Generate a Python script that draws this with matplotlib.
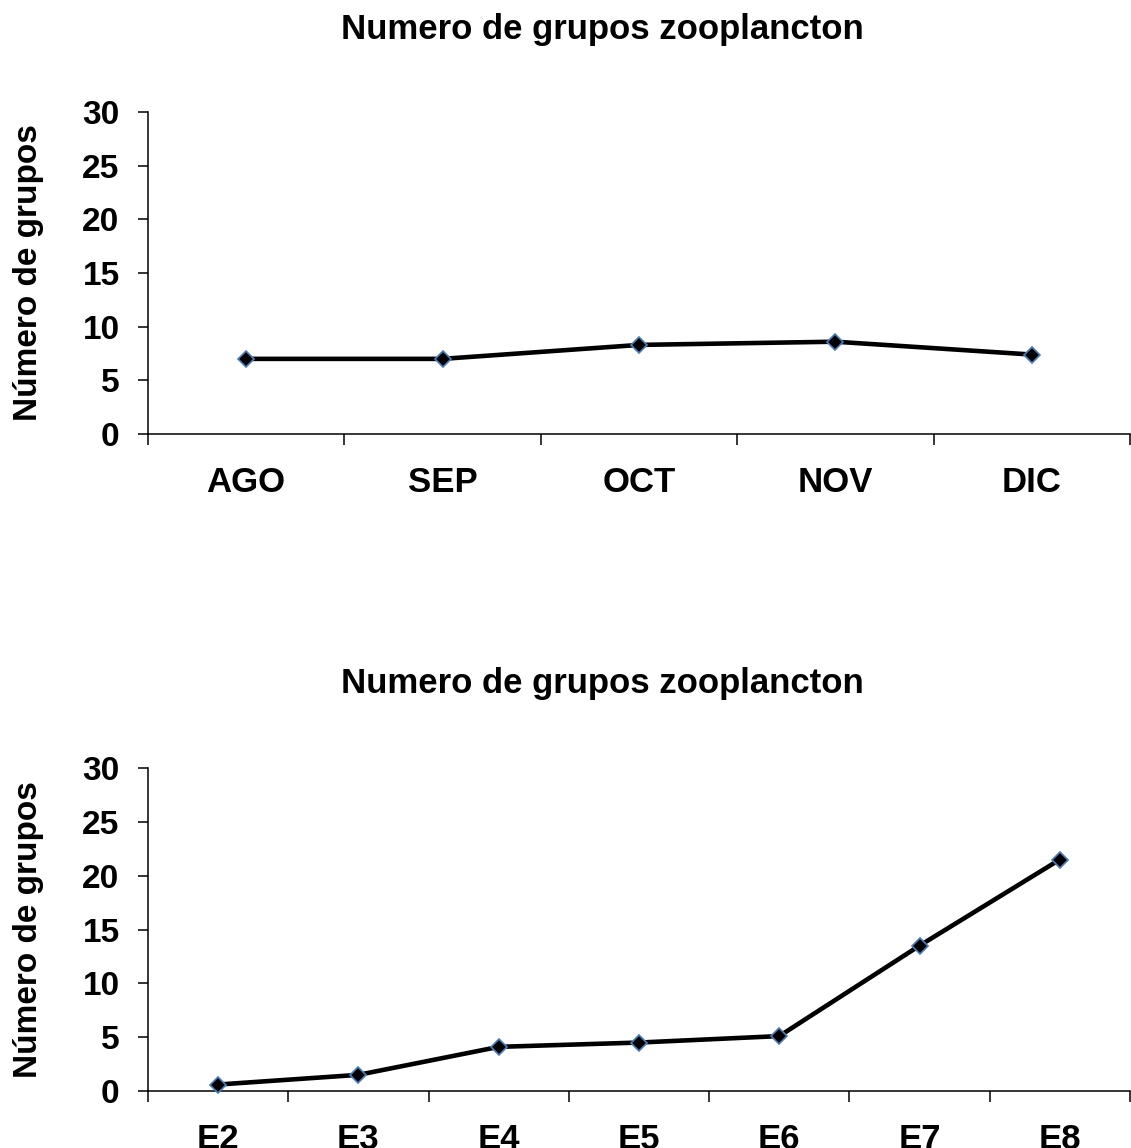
import numpy as np
import matplotlib
matplotlib.use("Agg")
import matplotlib.pyplot as plt

plt.rcParams['font.family'] = ['Liberation Sans', 'DejaVu Sans']
plt.rcParams['font.weight'] = 'bold'

meses = ['AGO', 'SEP', 'OCT', 'NOV', 'DIC']
grupos_mes = [7.0, 7.0, 8.3, 8.6, 7.4]

estaciones = ['E2', 'E3', 'E4', 'E5', 'E6', 'E7', 'E8']
grupos_est = [0.6, 1.5, 4.1, 4.5, 5.1, 13.5, 21.5]

titulo = 'Numero de grupos zooplancton'
eje_y = 'Número de grupos'

W, H = 1131, 1148
fig = plt.figure(figsize=(W / 100, H / 100), dpi=100)


def panel(rect, cats, vals, title_y):
    ax = fig.add_axes(rect)
    x = np.arange(len(cats))
    ax.plot(x, vals, color='black', lw=3.3, marker='D', ms=8.5,
            mfc='black', mec='#4a7ebb', mew=1.2,
            clip_on=False, zorder=3)
    ax.set_xlim(-0.5, len(cats) - 0.5)
    ax.set_ylim(0, 30)
    ax.set_yticks(range(0, 31, 5))
    ax.set_xticks(x)
    ax.set_xticklabels(cats)
    ax.set_xticks(np.arange(len(cats) + 1) - 0.5, minor=True)
    ax.tick_params(axis='x', which='major', length=0, pad=23, labelsize=25)
    ax.tick_params(axis='x', which='minor', length=8, width=1.1, direction='out')
    ax.tick_params(axis='y', length=7.5, width=1.1, direction='out', pad=13, labelsize=24)
    for lab in ax.get_xticklabels() + ax.get_yticklabels():
        lab.set_fontweight('bold')
    ax.spines['top'].set_visible(False)
    ax.spines['right'].set_visible(False)
    ax.spines['left'].set_linewidth(1.1)
    ax.spines['bottom'].set_linewidth(1.1)
    # y label placed in figure pixels, centred on the axis height
    y0, y1 = rect[1], rect[1] + rect[3]
    fig.text(29 / W, (y0 + y1) / 2, eje_y, rotation=90, ha='center', va='center',
             fontsize=24, fontweight='bold')
    fig.text(602 / W, title_y, titulo, ha='center', va='center',
             fontsize=25, fontweight='bold')
    return ax


def rect(x0, x1, ytop, ybot):
    return [x0 / W, 1 - ybot / H, (x1 - x0) / W, (ybot - ytop) / H]


panel(rect(148, 1130, 112, 434), meses, grupos_mes, 1 - 30 / H)
panel(rect(148, 1130, 768, 1091), estaciones, grupos_est, 1 - 683 / H)

fig.savefig('out.png', dpi=100, facecolor='white')
